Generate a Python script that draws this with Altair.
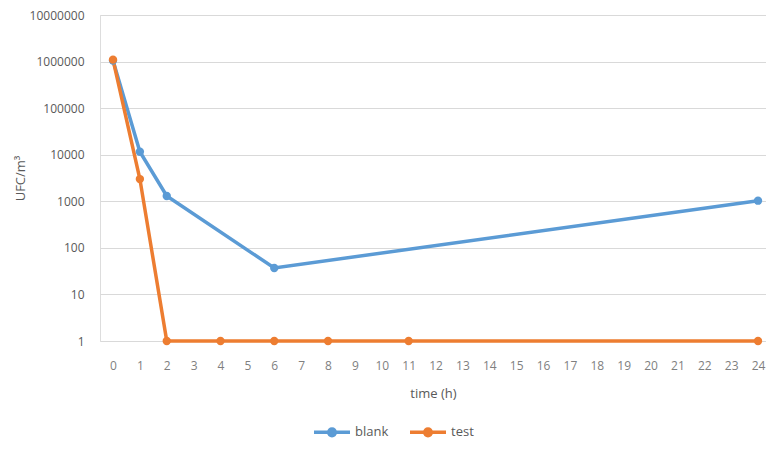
import altair as alt
import pandas as pd

# data
blank_hours = [0, 1, 2, 6, 24]
blank_values = [1050000, 11600, 1300, 37, 1030]
test_hours = [0, 1, 2, 4, 6, 8, 11, 24]
test_values = [1100000, 3000, 1, 1, 1, 1, 1, 1]
y_ticks = [1, 10, 100, 1000, 10000, 100000, 1000000, 10000000]
x_ticks = list(range(25))

df = pd.concat([
    pd.DataFrame({"time": blank_hours, "value": blank_values, "series": "blank"}),
    pd.DataFrame({"time": test_hours, "value": test_values, "series": "test"}),
])

FONT = "Open Sans"
GRAY = "#595959"
legend_symbol = ("M-1.8,0L1.8,0"
                 "M-0.33,0A0.33,0.33,0,1,1,0.33,0A0.33,0.33,0,1,1,-0.33,0Z"
                 "M-0.13,0A0.13,0.13,0,1,1,0.13,0A0.13,0.13,0,1,1,-0.13,0Z")

color = alt.Color(
    "series:N",
    scale=alt.Scale(domain=["blank", "test"], range=["#5B9BD5", "#ED7D31"]),
    legend=alt.Legend(
        title=None, orient="none", direction="horizontal",
        legendX=220, legendY=405,
        symbolType=legend_symbol, symbolSize=400, symbolStrokeWidth=3.5,
        labelFont=FONT, labelFontSize=13, labelColor=GRAY, columnPadding=14,
        labelOffset=11,
    ),
)

x = alt.X(
    "time:Q",
    scale=alt.Scale(domain=[-0.484, 24.297], nice=False, zero=False),
    axis=alt.Axis(
        values=x_ticks, format="d", title="time (h)", grid=False, domain=False,
        ticks=False, labelPadding=19, labelFont=FONT, labelFontSize=12,
        labelColor="#7f7f7f", titleFont=FONT, titleFontSize=13,
        titleFontWeight="normal", titleColor=GRAY, titlePadding=16,
        labelFlush=False,
    ),
)
y = alt.Y(
    "value:Q",
    scale=alt.Scale(type="log", domain=[1, 10000000], nice=False),
    axis=alt.Axis(
        values=y_ticks, format="d", title="UFC/m³", grid=True, gridColor="#D9D9D9",
        gridWidth=1, domain=False, ticks=False, labelPadding=16, labelFont=FONT,
        labelFontSize=12, labelColor=GRAY, titleFont=FONT, titleFontSize=13,
        titleFontWeight="normal", titleColor=GRAY, titlePadding=2,
    ),
)

chart = (
    alt.Chart(df)
    .mark_line(
        interpolate="linear", strokeWidth=3.5, clip=False,
        point=alt.OverlayMarkDef(filled=True, size=70, opacity=1),
    )
    .encode(x=x, y=y, color=color, order="time:Q")
    .properties(
        width=666, height=326,
        padding={"left": 92, "top": 7, "right": 0, "bottom": 100},
        autosize=alt.AutoSizeParams(type="none"),
    )
    .configure_view(stroke=None)
    .configure(background="white")
)

chart.save("out.html", embed_options={"renderer": "svg", "actions": False})
